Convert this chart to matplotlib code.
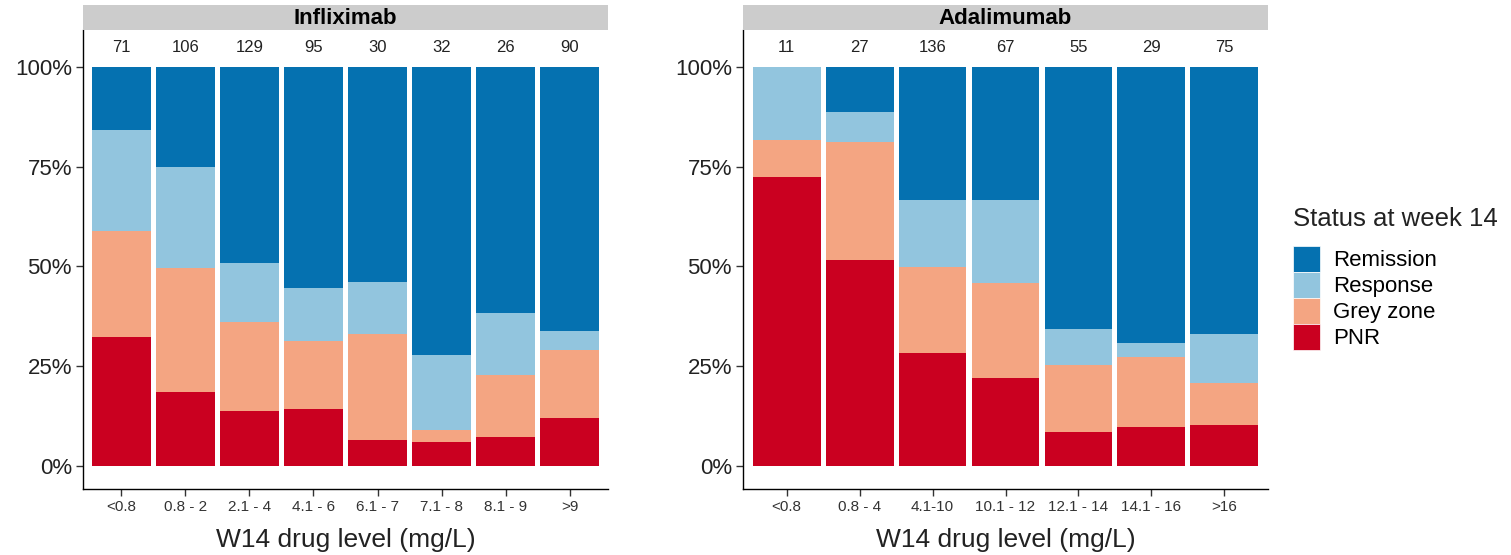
import numpy as np
import matplotlib
matplotlib.use('Agg')
import matplotlib.pyplot as plt
from matplotlib.patches import Patch

plt.rcParams['font.family'] = ['Liberation Sans', 'DejaVu Sans']

statuses = ['PNR', 'Grey zone', 'Response', 'Remission']
colors = {'Remission': '#0571b0', 'Response': '#92c5de',
          'Grey zone': '#f4a582', 'PNR': '#ca0020'}

# Infliximab: share (%) per drug level bin
ifx_levels = ['<0.8', '0.8 - 2', '2.1 - 4', '4.1 - 6', '6.1 - 7', '7.1 - 8', '8.1 - 9', '>9']
ifx_n = [71, 106, 129, 95, 30, 32, 26, 90]
ifx_pnr = [32.2, 18.6, 13.8, 14.3, 6.5, 6.0, 7.3, 12.0]
ifx_grey = [26.8, 31.0, 22.3, 17.0, 26.6, 3.0, 15.5, 17.1]
ifx_resp = [25.3, 25.3, 14.8, 13.3, 13.0, 18.8, 15.5, 4.7]
ifx_rem = [15.7, 25.1, 49.1, 55.4, 53.9, 72.2, 61.7, 66.2]

# Adalimumab
ada_levels = ['<0.8', '0.8 - 4', '4.1-10', '10.1 - 12', '12.1 - 14', '14.1 - 16', '>16']
ada_n = [11, 27, 136, 67, 55, 29, 75]
ada_pnr = [72.4, 51.6, 28.3, 22.1, 8.5, 9.8, 10.3]
ada_grey = [9.3, 29.6, 21.6, 23.8, 16.8, 17.5, 10.5]
ada_resp = [18.3, 7.5, 16.8, 20.8, 9.0, 3.5, 12.3]
ada_rem = [0.0, 11.3, 33.3, 33.3, 65.7, 69.2, 66.9]

W, H = 1511, 555
fig = plt.figure(figsize=(W / 100, H / 100), dpi=100)


def panel(x0, x1, title, levels, n, pnr, grey, resp, rem):
    top, bot = 30, 489
    ax = fig.add_axes([x0 / W, (H - bot) / H, (x1 - x0) / W, (bot - top) / H])
    x = np.arange(1, len(levels) + 1)
    bottom = np.zeros(len(levels))
    for name, vals in zip(statuses, [pnr, grey, resp, rem]):
        v = np.array(vals) / 100
        ax.bar(x, v, bottom=bottom, width=0.93, color=colors[name], linewidth=0)
        bottom += v
    for xi, ni in zip(x, n):
        ax.text(xi, 1.05, str(ni), ha='center', va='center', fontsize=12, color='#222222')
    ax.set_xlim(0.4, len(levels) + 0.6)
    ax.set_ylim(-0.058, 1.093)
    ax.set_yticks([0, 0.25, 0.5, 0.75, 1.0])
    ax.set_yticklabels(['0%', '25%', '50%', '75%', '100%'], fontsize=16, color='#222222')
    ax.set_xticks(x)
    ax.set_xticklabels(levels, fontsize=11, color='#333333')
    ax.tick_params(length=5, width=1, pad=3, color='#333333')
    for s in ['top', 'right']:
        ax.spines[s].set_visible(False)
    for s in ['left', 'bottom']:
        ax.spines[s].set_linewidth(1)
    ax.set_xlabel('W14 drug level (mg/L)', fontsize=19, color='#222222', labelpad=10)
    strip = fig.add_axes([x0 / W, (H - top) / H, (x1 - x0) / W, 25 / H])
    strip.set_facecolor('#cccccc')
    strip.set_xticks([])
    strip.set_yticks([])
    for s in strip.spines.values():
        s.set_visible(False)
    strip.text(0.5, 0.45, title, ha='center', va='center', fontsize=16,
               fontweight='bold', transform=strip.transAxes)
    return ax


panel(83, 608, 'Infliximab', ifx_levels, ifx_n, ifx_pnr, ifx_grey, ifx_resp, ifx_rem)
panel(743, 1268, 'Adalimumab', ada_levels, ada_n, ada_pnr, ada_grey, ada_resp, ada_rem)

# legend: title drawn separately so the gap to the keys can be set
fig.text(1293 / W, 1 - 219 / H, 'Status at week 14', fontsize=18.5, color='#222222',
         ha='left', va='center')
handles = [Patch(facecolor=colors[s], edgecolor='white', linewidth=0.5) for s in statuses[::-1]]
fig.legend(handles, statuses[::-1], loc='upper left',
           bbox_to_anchor=(1293 / W, 1 - 246 / H), frameon=False, fontsize=16,
           handlelength=1.22, handleheight=1.42, labelspacing=0.0,
           handletextpad=0.6, borderpad=0, borderaxespad=0)

fig.savefig('out.png', dpi=100)
